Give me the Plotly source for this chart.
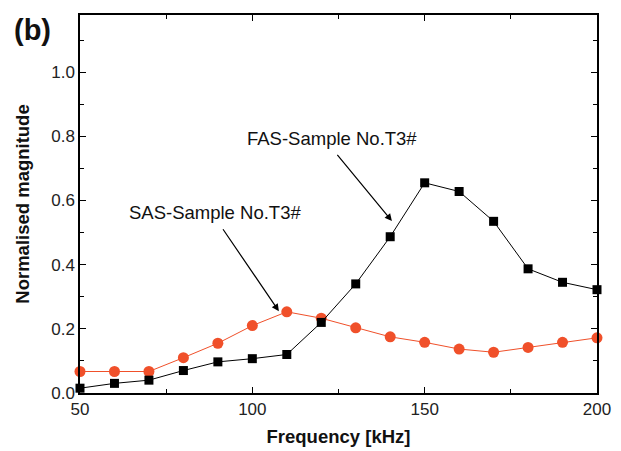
import plotly.graph_objects as go

freq = [50, 60, 70, 80, 90, 100, 110, 120, 130, 140, 150, 160, 170, 180, 190, 200]
fas = [0.015, 0.03, 0.04, 0.07, 0.097, 0.107, 0.12, 0.22, 0.34, 0.487, 0.655, 0.628, 0.535, 0.387, 0.345, 0.322]
sas = [0.067, 0.067, 0.067, 0.11, 0.155, 0.21, 0.253, 0.233, 0.203, 0.175, 0.158, 0.137, 0.127, 0.142, 0.158, 0.172]

RED = "#F0502A"
FONT = "Liberation Sans, Arial, sans-serif"

fig = go.Figure()
fig.add_trace(go.Scatter(x=freq, y=sas, mode="lines+markers",
                         line=dict(color=RED, width=1),
                         marker=dict(symbol="circle", size=11, color=RED),
                         cliponaxis=False, showlegend=False))
fig.add_trace(go.Scatter(x=freq, y=fas, mode="lines+markers",
                         line=dict(color="black", width=1),
                         marker=dict(symbol="square", size=9, color="black"),
                         cliponaxis=False, showlegend=False))

axis_common = dict(showline=True, linecolor="black", linewidth=1.5, mirror="allticks",
                   ticks="inside", ticklen=6, tickwidth=1, tickcolor="black",
                   showgrid=False, zeroline=False,
                   tickfont=dict(family=FONT, size=17, color="#222"))

fig.update_xaxes(range=[50, 200], tickvals=[50, 100, 150, 200],
                 minor=dict(ticks="inside", ticklen=4, tickcolor="black", dtick=25, tick0=50),
                 title=dict(text="<b>Frequency [kHz]</b>", font=dict(family=FONT, size=18.5, color="#111"), standoff=12),
                 **axis_common)
fig.update_yaxes(range=[0, 1.178], tickvals=[0.0, 0.2, 0.4, 0.6, 0.8, 1.0],
                 ticktext=["0.0", "0.2", "0.4", "0.6", "0.8", "1.0"],
                 minor=dict(ticks="inside", ticklen=4, tickcolor="black", dtick=0.1, tick0=0),
                 title=dict(text="<b>Normalised magnitude</b>", font=dict(family=FONT, size=18.5, color="#111"), standoff=17),
                 **axis_common)

fig.add_annotation(x=140.5, y=0.536, ax=124.3, ay=0.747, xref="x", yref="y", axref="x", ayref="y",
                   showarrow=True, arrowhead=2, arrowsize=1.2, arrowwidth=1.2, arrowcolor="black", text="")
fig.add_annotation(x=107.7, y=0.255, ax=91.2, ay=0.515, xref="x", yref="y", axref="x", ayref="y",
                   showarrow=True, arrowhead=2, arrowsize=1.2, arrowwidth=1.2, arrowcolor="black", text="")
fig.add_annotation(x=123.1, y=0.793, xref="x", yref="y", text="FAS-Sample No.T3#", showarrow=False,
                   font=dict(family=FONT, size=18.5, color="#111"))
fig.add_annotation(x=89.2, y=0.561, xref="x", yref="y", text="SAS-Sample No.T3#", showarrow=False,
                   font=dict(family=FONT, size=18.5, color="#111"))

W, H = 613, 443
L, R, T, B = 72, 24, 5, 58
fig.add_annotation(x=(12 - 8 - L) / (W - L - R), y=1 + (T - (28 - 8)) / (H - T - B),
                   xref="paper", yref="paper", text="<b>(b)</b>", showarrow=False,
                   font=dict(family=FONT, size=29, color="#111"), xanchor="left", yanchor="middle")

fig.update_layout(width=W, height=H, margin=dict(l=L, r=R, t=T, b=B),
                  paper_bgcolor="white", plot_bgcolor="white")

fig.write_html("out.html")
